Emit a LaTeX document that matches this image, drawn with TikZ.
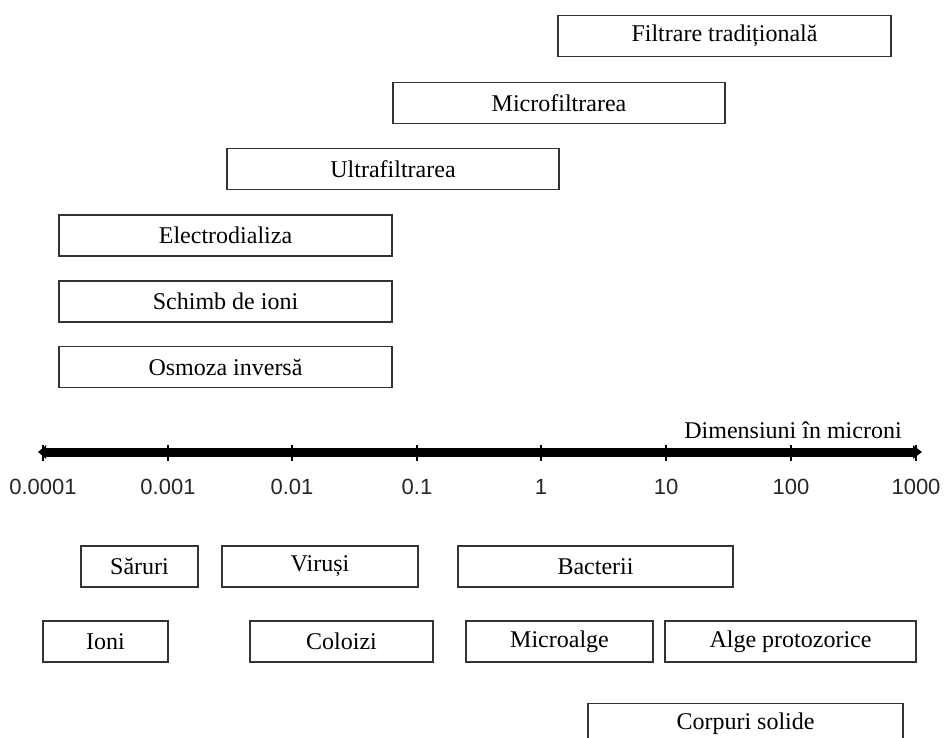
\documentclass[tikz,border=0pt]{standalone}
\usepackage{fontspec}
\setmainfont{Liberation Serif}
\newfontfamily\tickfont{Liberation Sans}
\usetikzlibrary{arrows.meta,positioning}

\tikzset{
	band/.style={draw=black!80, line width=1.3pt, minimum height=41pt, inner sep=0pt, font=\fontsize{24}{28}\selectfont},
	ticklabel/.style={font=\tickfont\fontsize{22}{26}\selectfont, text=black!85}
}

\begin{document}
\begin{tikzpicture}[x=1pt,y=-1pt]
			\useasboundingbox (0,0) rectangle (944,738);
			\draw [line width=9pt, {Triangle[length=8pt,width=13pt]}-{Triangle[length=9pt,width=13pt]}] (38,452) -- (922,452);
			\foreach \x/\t in {43/0.0001, 168/0.001, 292/0.01, 417/0.1, 541/1, 666/10, 791/100, 916/1000}
			{
				\draw[line width=1.2pt] (\x,445) -- (\x,461);
				\node[ticklabel] (tick\x) at (\x,487) {\t};
			}
			\node[font=\fontsize{24}{28}\selectfont] (unit) at (793,430) {Dimensiuni în microni};
			\node[band, minimum width=333] (filtrare) at (724.5,36) {Filtrare tradițională};
			\node[band, minimum width=332] (micro) at (559,103) {Microfiltrarea};
			\node[band, minimum width=332] (ultra) at (393,169) {Ultrafiltrarea};
			\node[band, minimum width=333] (electro) at (225.5,235.5) {Electrodializa};
			\node[band, minimum width=333] (schimb) at (225.5,301.5) {Schimb de ioni};
			\node[band, minimum width=333] (osmoza) at (225.5,367) {Osmoza inversă};
			\node[band, minimum width=117] (saruri) at (139.5,566.5) {Săruri};
			\node[band, minimum width=196] (virusi) at (320,566.5) {Viruși};
			\node[band, minimum width=275] (bacterii) at (595.5,566.5) {Bacterii};
			\node[band, minimum width=125] (ioni) at (105.5,641.5) {Ioni};
			\node[band, minimum width=183] (coloizi) at (341.5,641.5) {Coloizi};
			\node[band, minimum width=187] (microalge) at (559.5,641.5) {Microalge};
			\node[band, minimum width=251] (alge) at (790.5,641.5) {Alge protozorice};
			\node[band, minimum width=315] (solide) at (745.5,724) {Corpuri solide};
		\end{tikzpicture}
\end{document}
